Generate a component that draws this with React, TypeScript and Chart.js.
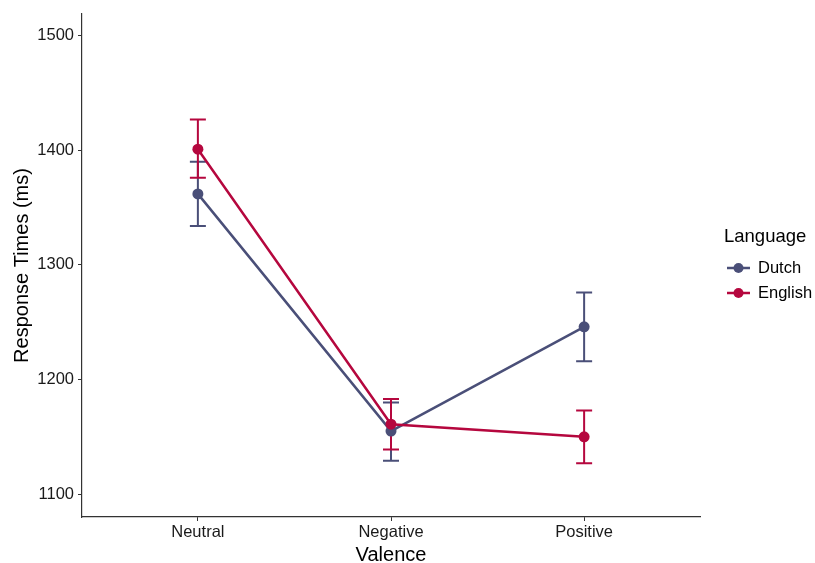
import React, { useEffect, useRef } from "react";
import { Chart, registerables } from "chart.js";

Chart.register(...registerables);

const categories = ["Neutral", "Negative", "Positive"];
const yTicks = [1100, 1200, 1300, 1400, 1500];

const dutchMean = [1362, 1155, 1246];
const dutchLow = [1334, 1129, 1216];
const dutchHigh = [1390, 1180, 1276];

const englishMean = [1401, 1161, 1150];
const englishLow = [1376, 1139, 1127];
const englishHigh = [1427, 1183, 1173];

const seriesNames = ["Dutch", "English"];
const seriesColors = ["#4A4F78", "#B5073E"];

const FONT = '"Liberation Sans", Arial, sans-serif';

const errorBarPlugin = {
  id: "errorBars",
  beforeDatasetsDraw(chart: any) {
    const ctx = chart.ctx;
    const xs = chart.scales.x;
    const ys = chart.scales.y;
    const sets = [
      { lo: dutchLow, hi: dutchHigh, color: seriesColors[0] },
      { lo: englishLow, hi: englishHigh, color: seriesColors[1] },
    ];
    ctx.save();
    ctx.lineWidth = 2;
    sets.forEach((s) => {
      ctx.strokeStyle = s.color;
      s.lo.forEach((lo, i) => {
        const x = xs.getPixelForValue(i);
        const y1 = ys.getPixelForValue(lo);
        const y2 = ys.getPixelForValue(s.hi[i]);
        const hw = 8;
        ctx.beginPath();
        ctx.moveTo(x, y1);
        ctx.lineTo(x, y2);
        ctx.moveTo(x - hw, y1);
        ctx.lineTo(x + hw, y1);
        ctx.moveTo(x - hw, y2);
        ctx.lineTo(x + hw, y2);
        ctx.stroke();
      });
    });
    ctx.restore();
  },
};

const legendPlugin = {
  id: "customLegend",
  afterDraw(chart: any) {
    const ctx = chart.ctx;
    const area = chart.chartArea;
    const x0 = area.right + 24;
    ctx.save();
    ctx.fillStyle = "#000";
    ctx.textBaseline = "middle";
    ctx.textAlign = "left";
    ctx.font = `18.5px ${FONT}`;
    ctx.fillText("Language", x0, 237);
    seriesNames.forEach((name, i) => {
      const y = 268 + i * 25;
      ctx.strokeStyle = seriesColors[i];
      ctx.fillStyle = seriesColors[i];
      ctx.lineWidth = 2.5;
      ctx.beginPath();
      ctx.moveTo(x0 + 3, y);
      ctx.lineTo(x0 + 26, y);
      ctx.stroke();
      ctx.beginPath();
      ctx.arc(x0 + 14.5, y, 5, 0, Math.PI * 2);
      ctx.fill();
      ctx.fillStyle = "#000";
      ctx.font = `16.5px ${FONT}`;
      ctx.fillText(name, x0 + 34, y);
    });
    ctx.restore();
  },
};

export default function App() {
  const canvasRef = useRef<HTMLCanvasElement>(null);

  useEffect(() => {
    document.body.style.margin = "0";
    const canvas = canvasRef.current;
    if (!canvas) return;
    const mk = (means: number[]) => means.map((v, i) => ({ x: i, y: v }));
    const chart = new Chart(canvas, {
      type: "line",
      data: {
        datasets: [
          {
            label: seriesNames[0],
            data: mk(dutchMean),
            borderColor: seriesColors[0],
            backgroundColor: seriesColors[0],
            pointBackgroundColor: seriesColors[0],
            pointBorderColor: seriesColors[0],
            borderWidth: 2.5,
            pointRadius: 5.5,
            pointBorderWidth: 0,
            order: 1,
          },
          {
            label: seriesNames[1],
            data: mk(englishMean),
            borderColor: seriesColors[1],
            backgroundColor: seriesColors[1],
            pointBackgroundColor: seriesColors[1],
            pointBorderColor: seriesColors[1],
            borderWidth: 2.5,
            pointRadius: 5.5,
            pointBorderWidth: 0,
            order: 0,
          },
        ],
      },
      options: {
        responsive: false,
        animation: false,
        layout: { padding: { top: 14, right: 115, left: 0, bottom: 0 } },
        plugins: {
          legend: { display: false },
          tooltip: { enabled: false },
        },
        scales: {
          x: {
            type: "linear",
            min: -0.6,
            max: 2.6,
            afterBuildTicks: (scale: any) => {
              scale.ticks = categories.map((_, i) => ({ value: i }));
            },
            afterFit: (scale: any) => {
              scale.height = 46;
            },
            grid: {
              drawOnChartArea: false,
              drawTicks: true,
              tickLength: 4,
              color: "#333",
              lineWidth: 1,
            },
            border: { display: true, color: "#333", width: 1.2 },
            ticks: {
              padding: 2,
              color: "#1a1a1a",
              font: { family: FONT, size: 16.5 },
              maxRotation: 0,
              callback: (v: any) => categories[Math.round(Number(v))] ?? "",
            },
            title: {
              display: true,
              text: "Valence",
              color: "#000",
              font: { family: FONT, size: 20, lineHeight: 0.8 },
              padding: { top: 0, bottom: 0 },
            },
          },
          y: {
            type: "linear",
            min: 1080,
            max: 1519,
            afterBuildTicks: (scale: any) => {
              scale.ticks = yTicks.map((v) => ({ value: v }));
            },
            afterFit: (scale: any) => {
              scale.width = 82;
            },
            grid: {
              drawOnChartArea: false,
              drawTicks: true,
              tickLength: 4,
              color: "#333",
              lineWidth: 1,
            },
            border: { display: true, color: "#333", width: 1.2 },
            ticks: {
              padding: 4,
              color: "#1a1a1a",
              font: { family: FONT, size: 16.5 },
              callback: (v: any) => String(v),
            },
            title: {
              display: true,
              text: "Response Times (ms)",
              color: "#000",
              font: { family: FONT, size: 20, lineHeight: 1.2 },
              padding: { top: 10, bottom: 0 },
            },
          },
        },
      },
      plugins: [errorBarPlugin, legendPlugin],
    } as any);
    return () => chart.destroy();
  }, []);

  return (
    <div style={{ width: 815, height: 563 }}>
      <canvas ref={canvasRef} width={815} height={563} />
    </div>
  );
}
